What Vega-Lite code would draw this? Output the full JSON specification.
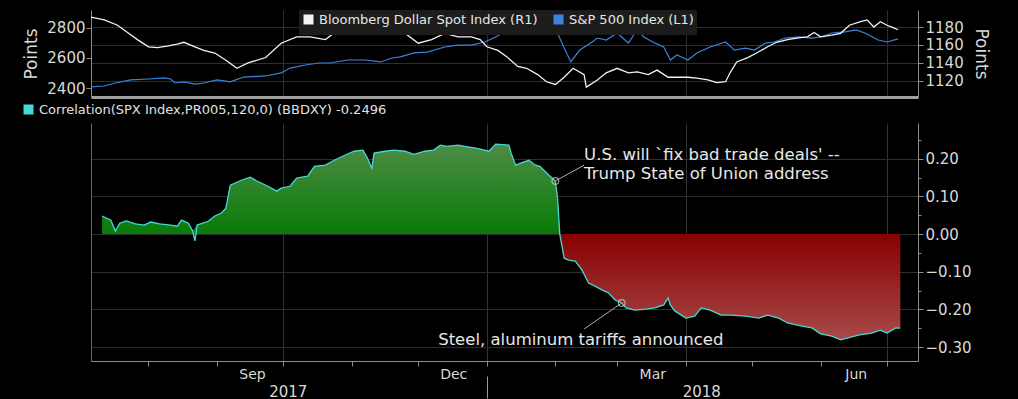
{
  "$schema": "https://vega.github.io/schema/vega-lite/v6.json",
  "background": "#000000",
  "padding": {"left": 22, "top": 10, "right": 30, "bottom": 0},
  "config": {
    "view": {"stroke": null},
    "font": "DejaVu Sans",
    "axis": {"labelColor": "#d9d9d9", "titleColor": "#d9d9d9", "gridColor": "#2e2e2e", "domainColor": "#8c8c8c", "tickColor": "#8c8c8c", "labelFont": "DejaVu Sans", "titleFont": "DejaVu Sans", "titleFontWeight": "normal"},
    "legend": {"labelFont": "DejaVu Sans", "labelColor": "#e0e0e0", "labelLimit": 0}
  },
  "datasets": {
    "spx": [
      {"date": "2017-07-06", "value": 2410}, {"date": "2017-07-12", "value": 2416}, {"date": "2017-07-17", "value": 2436},
      {"date": "2017-07-24", "value": 2456}, {"date": "2017-08-01", "value": 2462}, {"date": "2017-08-08", "value": 2469},
      {"date": "2017-08-11", "value": 2462}, {"date": "2017-08-13", "value": 2436}, {"date": "2017-08-17", "value": 2443},
      {"date": "2017-08-22", "value": 2429}, {"date": "2017-08-26", "value": 2436}, {"date": "2017-09-01", "value": 2456},
      {"date": "2017-09-07", "value": 2443}, {"date": "2017-09-13", "value": 2475}, {"date": "2017-09-23", "value": 2482},
      {"date": "2017-09-30", "value": 2502}, {"date": "2017-10-04", "value": 2534}, {"date": "2017-10-11", "value": 2554},
      {"date": "2017-10-17", "value": 2567}, {"date": "2017-10-22", "value": 2567}, {"date": "2017-10-30", "value": 2587},
      {"date": "2017-11-07", "value": 2587}, {"date": "2017-11-14", "value": 2574}, {"date": "2017-11-19", "value": 2600},
      {"date": "2017-11-23", "value": 2607}, {"date": "2017-11-29", "value": 2633}, {"date": "2017-12-05", "value": 2639},
      {"date": "2017-12-13", "value": 2672}, {"date": "2017-12-19", "value": 2685}, {"date": "2017-12-25", "value": 2685},
      {"date": "2017-12-31", "value": 2705}, {"date": "2018-01-05", "value": 2738}, {"date": "2018-01-09", "value": 2771},
      {"date": "2018-01-16", "value": 2800}, {"date": "2018-01-22", "value": 2835}, {"date": "2018-01-26", "value": 2870},
      {"date": "2018-01-30", "value": 2822}, {"date": "2018-02-02", "value": 2762}, {"date": "2018-02-05", "value": 2665},
      {"date": "2018-02-08", "value": 2574}, {"date": "2018-02-12", "value": 2652}, {"date": "2018-02-17", "value": 2698},
      {"date": "2018-02-20", "value": 2731}, {"date": "2018-02-24", "value": 2718}, {"date": "2018-03-01", "value": 2764},
      {"date": "2018-03-06", "value": 2698}, {"date": "2018-03-10", "value": 2784}, {"date": "2018-03-13", "value": 2738},
      {"date": "2018-03-17", "value": 2705}, {"date": "2018-03-22", "value": 2672}, {"date": "2018-03-25", "value": 2587},
      {"date": "2018-03-28", "value": 2620}, {"date": "2018-04-02", "value": 2587}, {"date": "2018-04-06", "value": 2633},
      {"date": "2018-04-12", "value": 2672}, {"date": "2018-04-19", "value": 2705}, {"date": "2018-04-23", "value": 2652},
      {"date": "2018-04-28", "value": 2665}, {"date": "2018-05-02", "value": 2652}, {"date": "2018-05-07", "value": 2698},
      {"date": "2018-05-11", "value": 2705}, {"date": "2018-05-16", "value": 2731}, {"date": "2018-05-22", "value": 2738},
      {"date": "2018-05-28", "value": 2731}, {"date": "2018-06-01", "value": 2738}, {"date": "2018-06-06", "value": 2764},
      {"date": "2018-06-12", "value": 2771}, {"date": "2018-06-17", "value": 2784}, {"date": "2018-06-21", "value": 2764},
      {"date": "2018-06-27", "value": 2718}, {"date": "2018-07-01", "value": 2705}, {"date": "2018-07-06", "value": 2725}
    ],
    "dxy": [
      {"date": "2017-07-06", "value": 1191}, {"date": "2017-07-12", "value": 1188}, {"date": "2017-07-18", "value": 1182},
      {"date": "2017-07-23", "value": 1173}, {"date": "2017-07-27", "value": 1166}, {"date": "2017-08-01", "value": 1158},
      {"date": "2017-08-05", "value": 1157}, {"date": "2017-08-10", "value": 1159}, {"date": "2017-08-14", "value": 1161},
      {"date": "2017-08-17", "value": 1163}, {"date": "2017-08-22", "value": 1158}, {"date": "2017-08-26", "value": 1154},
      {"date": "2017-08-31", "value": 1151}, {"date": "2017-09-05", "value": 1143}, {"date": "2017-09-10", "value": 1134},
      {"date": "2017-09-15", "value": 1140}, {"date": "2017-09-23", "value": 1146}, {"date": "2017-09-30", "value": 1162},
      {"date": "2017-10-07", "value": 1169}, {"date": "2017-10-13", "value": 1169}, {"date": "2017-10-20", "value": 1166},
      {"date": "2017-10-26", "value": 1177}, {"date": "2017-10-31", "value": 1180}, {"date": "2017-11-07", "value": 1183},
      {"date": "2017-11-12", "value": 1186}, {"date": "2017-11-19", "value": 1188}, {"date": "2017-11-25", "value": 1173},
      {"date": "2017-12-01", "value": 1162}, {"date": "2017-12-07", "value": 1166}, {"date": "2017-12-13", "value": 1173},
      {"date": "2017-12-19", "value": 1169}, {"date": "2017-12-25", "value": 1169}, {"date": "2017-12-29", "value": 1166},
      {"date": "2018-01-01", "value": 1158}, {"date": "2018-01-06", "value": 1154}, {"date": "2018-01-10", "value": 1147},
      {"date": "2018-01-15", "value": 1136}, {"date": "2018-01-19", "value": 1134}, {"date": "2018-01-24", "value": 1127},
      {"date": "2018-01-28", "value": 1119}, {"date": "2018-02-01", "value": 1116}, {"date": "2018-02-05", "value": 1124},
      {"date": "2018-02-09", "value": 1134}, {"date": "2018-02-14", "value": 1127}, {"date": "2018-02-15", "value": 1113},
      {"date": "2018-02-20", "value": 1121}, {"date": "2018-02-24", "value": 1129}, {"date": "2018-03-01", "value": 1134},
      {"date": "2018-03-06", "value": 1129}, {"date": "2018-03-10", "value": 1130}, {"date": "2018-03-15", "value": 1127},
      {"date": "2018-03-19", "value": 1132}, {"date": "2018-03-24", "value": 1124}, {"date": "2018-03-28", "value": 1124},
      {"date": "2018-04-02", "value": 1124}, {"date": "2018-04-06", "value": 1123}, {"date": "2018-04-11", "value": 1121},
      {"date": "2018-04-15", "value": 1118}, {"date": "2018-04-19", "value": 1119}, {"date": "2018-04-21", "value": 1129},
      {"date": "2018-04-24", "value": 1141}, {"date": "2018-04-29", "value": 1146}, {"date": "2018-05-03", "value": 1151},
      {"date": "2018-05-08", "value": 1158}, {"date": "2018-05-12", "value": 1163}, {"date": "2018-05-17", "value": 1166},
      {"date": "2018-05-22", "value": 1168}, {"date": "2018-05-26", "value": 1169}, {"date": "2018-05-29", "value": 1174},
      {"date": "2018-06-01", "value": 1169}, {"date": "2018-06-06", "value": 1171}, {"date": "2018-06-10", "value": 1173},
      {"date": "2018-06-14", "value": 1182}, {"date": "2018-06-19", "value": 1186}, {"date": "2018-06-22", "value": 1188},
      {"date": "2018-06-25", "value": 1180}, {"date": "2018-06-28", "value": 1186}, {"date": "2018-07-01", "value": 1182},
      {"date": "2018-07-04", "value": 1179}, {"date": "2018-07-06", "value": 1177}
    ],
    "corr": [
      {"date": "2017-07-11", "corr": 0.048}, {"date": "2017-07-15", "corr": 0.037}, {"date": "2017-07-17", "corr": 0.008},
      {"date": "2017-07-19", "corr": 0.029}, {"date": "2017-07-22", "corr": 0.035}, {"date": "2017-07-26", "corr": 0.027},
      {"date": "2017-07-30", "corr": 0.024}, {"date": "2017-08-02", "corr": 0.032}, {"date": "2017-08-06", "corr": 0.027},
      {"date": "2017-08-11", "corr": 0.024}, {"date": "2017-08-14", "corr": 0.021}, {"date": "2017-08-16", "corr": 0.037},
      {"date": "2017-08-19", "corr": 0.029}, {"date": "2017-08-21", "corr": 0.008}, {"date": "2017-08-22", "corr": -0.018},
      {"date": "2017-08-23", "corr": 0.024}, {"date": "2017-08-28", "corr": 0.034}, {"date": "2017-08-31", "corr": 0.048},
      {"date": "2017-09-03", "corr": 0.056}, {"date": "2017-09-05", "corr": 0.069}, {"date": "2017-09-07", "corr": 0.130},
      {"date": "2017-09-12", "corr": 0.143}, {"date": "2017-09-16", "corr": 0.151}, {"date": "2017-09-19", "corr": 0.141},
      {"date": "2017-09-24", "corr": 0.127}, {"date": "2017-09-28", "corr": 0.114}, {"date": "2017-09-30", "corr": 0.122},
      {"date": "2017-10-04", "corr": 0.127}, {"date": "2017-10-07", "corr": 0.149}, {"date": "2017-10-12", "corr": 0.154},
      {"date": "2017-10-15", "corr": 0.180}, {"date": "2017-10-20", "corr": 0.183}, {"date": "2017-10-24", "corr": 0.196},
      {"date": "2017-10-29", "corr": 0.210}, {"date": "2017-11-02", "corr": 0.220}, {"date": "2017-11-06", "corr": 0.223},
      {"date": "2017-11-08", "corr": 0.202}, {"date": "2017-11-10", "corr": 0.175}, {"date": "2017-11-11", "corr": 0.215},
      {"date": "2017-11-16", "corr": 0.220}, {"date": "2017-11-20", "corr": 0.223}, {"date": "2017-11-25", "corr": 0.220},
      {"date": "2017-11-29", "corr": 0.212}, {"date": "2017-12-04", "corr": 0.220}, {"date": "2017-12-08", "corr": 0.223},
      {"date": "2017-12-11", "corr": 0.236}, {"date": "2017-12-14", "corr": 0.233}, {"date": "2017-12-19", "corr": 0.236},
      {"date": "2017-12-22", "corr": 0.233}, {"date": "2017-12-27", "corr": 0.228}, {"date": "2017-12-31", "corr": 0.223},
      {"date": "2018-01-02", "corr": 0.220}, {"date": "2018-01-05", "corr": 0.239}, {"date": "2018-01-11", "corr": 0.236},
      {"date": "2018-01-12", "corr": 0.215}, {"date": "2018-01-14", "corr": 0.183}, {"date": "2018-01-16", "corr": 0.188},
      {"date": "2018-01-20", "corr": 0.196}, {"date": "2018-01-23", "corr": 0.183}, {"date": "2018-01-25", "corr": 0.180},
      {"date": "2018-01-29", "corr": 0.157}, {"date": "2018-02-01", "corr": 0.141}, {"date": "2018-02-02", "corr": 0.095},
      {"date": "2018-02-03", "corr": 0}, {"date": "2018-02-05", "corr": -0.064}, {"date": "2018-02-07", "corr": -0.069},
      {"date": "2018-02-10", "corr": -0.072}, {"date": "2018-02-13", "corr": -0.095}, {"date": "2018-02-16", "corr": -0.130},
      {"date": "2018-02-19", "corr": -0.138}, {"date": "2018-02-22", "corr": -0.148}, {"date": "2018-02-25", "corr": -0.156},
      {"date": "2018-02-28", "corr": -0.175}, {"date": "2018-03-03", "corr": -0.183}, {"date": "2018-03-05", "corr": -0.196},
      {"date": "2018-03-09", "corr": -0.202}, {"date": "2018-03-14", "corr": -0.199}, {"date": "2018-03-18", "corr": -0.196},
      {"date": "2018-03-22", "corr": -0.188}, {"date": "2018-03-24", "corr": -0.170}, {"date": "2018-03-25", "corr": -0.188},
      {"date": "2018-03-27", "corr": -0.204}, {"date": "2018-04-01", "corr": -0.223}, {"date": "2018-04-05", "corr": -0.218},
      {"date": "2018-04-08", "corr": -0.196}, {"date": "2018-04-12", "corr": -0.202}, {"date": "2018-04-17", "corr": -0.215},
      {"date": "2018-04-21", "corr": -0.215}, {"date": "2018-04-28", "corr": -0.218}, {"date": "2018-05-04", "corr": -0.223},
      {"date": "2018-05-08", "corr": -0.215}, {"date": "2018-05-13", "corr": -0.223}, {"date": "2018-05-17", "corr": -0.236},
      {"date": "2018-05-23", "corr": -0.244}, {"date": "2018-05-28", "corr": -0.249}, {"date": "2018-06-01", "corr": -0.265},
      {"date": "2018-06-06", "corr": -0.271}, {"date": "2018-06-10", "corr": -0.281}, {"date": "2018-06-13", "corr": -0.276},
      {"date": "2018-06-18", "corr": -0.268}, {"date": "2018-06-24", "corr": -0.263}, {"date": "2018-06-28", "corr": -0.255},
      {"date": "2018-07-01", "corr": -0.263}, {"date": "2018-07-05", "corr": -0.249}, {"date": "2018-07-07", "corr": -0.2496}
    ],
    "markers": [
      {"date": "2018-02-01", "value": 0.141},
      {"date": "2018-03-03", "value": -0.183}
    ],
    "leaders": [
      {"date": "2018-02-01", "value": 0.141, "date2": "2018-02-14", "value2": 0.183},
      {"date": "2018-03-03", "value": -0.183, "date2": "2018-02-14", "value2": -0.252}
    ],
    "notes": [
      {"date": "2018-02-14", "value": 0.2095, "label": "U.S. will `fix bad trade deals' --"},
      {"date": "2018-02-14", "value": 0.159, "label": "Trump State of Union address"},
      {"date": "2017-12-10", "value": -0.28, "label": "Steel, aluminum tariffs announced"}
    ]
  },
  "spacing": 6,
  "vconcat": [
    {
      "width": 827,
      "height": 87,
      "layer": [
        {
          "data": {"name": "spx"},
          "mark": {"type": "line", "strokeWidth": 1.2},
          "encoding": {
            "x": {"field": "date", "type": "temporal",
              "scale": {"domain": [{"year": 2017, "month": 7, "date": 6}, {"year": 2018, "month": 7, "date": 15}]},
              "axis": {"values": [{"year": 2017, "month": 10, "date": 1}, {"year": 2018, "month": 1, "date": 1}, {"year": 2018, "month": 4, "date": 1}, {"year": 2018, "month": 7, "date": 1}],
                "grid": true, "gridColor": "#2e2e2e", "labels": false, "ticks": false, "domain": true, "domainColor": "#a0a0a0", "domainWidth": 3, "title": null}},
            "y": {"field": "value", "type": "quantitative",
              "scale": {"domain": [2344, 2915], "nice": false, "zero": false},
              "axis": {"orient": "left", "values": [2400, 2600, 2800], "format": "d", "labelFontSize": 15, "tickSize": 5, "labelPadding": 1, "grid": false, "title": "Points", "titleFontSize": 17, "titlePadding": 6}},
            "color": {"datum": "S&P 500 Index (L1)",
              "scale": {"domain": ["Bloomberg Dollar Spot Index (R1)", "S&P 500 Index (L1)"], "range": ["#f2f2f2", "#3a84dc"]},
              "legend": {"orient": "none", "legendX": 208, "legendY": 0, "direction": "horizontal", "title": null, "symbolType": "square", "symbolSize": 25, "symbolStrokeWidth": 5, "labelFontSize": 13, "labelColor": "#e6e6e6", "labelLimit": 0, "fillColor": "#1c1c1c", "padding": 3, "columnPadding": 8}}
          }
        },
        {
          "data": {"name": "dxy"},
          "mark": {"type": "line", "strokeWidth": 1.3},
          "encoding": {
            "x": {"field": "date", "type": "temporal",
              "scale": {"domain": [{"year": 2017, "month": 7, "date": 6}, {"year": 2018, "month": 7, "date": 15}]},
              "axis": {"values": [{"year": 2017, "month": 10, "date": 1}, {"year": 2018, "month": 1, "date": 1}, {"year": 2018, "month": 4, "date": 1}, {"year": 2018, "month": 7, "date": 1}],
                "grid": true, "gridColor": "#2e2e2e", "labels": false, "ticks": false, "domain": true, "domainColor": "#a0a0a0", "domainWidth": 3, "title": null}},
            "y": {"field": "value", "type": "quantitative",
              "scale": {"domain": [1102, 1199], "nice": false, "zero": false},
              "axis": {"orient": "right", "values": [1120, 1140, 1160, 1180], "format": "d", "labelFontSize": 15, "tickSize": 5, "labelPadding": 2, "grid": true, "gridColor": "#2e2e2e", "title": "Points", "titleFontSize": 17, "titlePadding": 8}},
            "color": {"datum": "Bloomberg Dollar Spot Index (R1)"}
          }
        }
      ],
      "resolve": {"scale": {"y": "independent"}}
    },
    {
      "width": 827,
      "height": 238,
      "layer": [
        {
          "data": {"name": "corr"},
          "transform": [{"filter": {"field": "corr", "gte": 0}}],
          "mark": {"type": "area", "fill": {"gradient": "linear", "x1": 0, "y1": 0, "x2": 0, "y2": 1, "stops": [{"offset": 0, "color": "#4e8c46"}, {"offset": 1, "color": "#087b08"}]}},
          "encoding": {
            "x": {"field": "date", "type": "temporal",
              "scale": {"domain": [{"year": 2017, "month": 7, "date": 6}, {"year": 2018, "month": 7, "date": 15}]},
              "axis": {
                "orient": "bottom",
                "values": [{"year": 2017, "month": 8, "date": 1}, {"year": 2017, "month": 9, "date": 1}, {"year": 2017, "month": 10, "date": 1}, {"year": 2017, "month": 11, "date": 1}, {"year": 2017, "month": 12, "date": 1}, {"year": 2018, "month": 1, "date": 1}, {"year": 2018, "month": 2, "date": 1}, {"year": 2018, "month": 3, "date": 1}, {"year": 2018, "month": 4, "date": 1}, {"year": 2018, "month": 5, "date": 1}, {"year": 2018, "month": 6, "date": 1}, {"year": 2018, "month": 7, "date": 1}],
                "grid": true,
                "gridColor": {"condition": {"test": "month(datum.value) % 3 === 0", "value": "#333333"}, "value": "rgba(0,0,0,0)"},
                "tickSize": 5, "labelFontSize": 14, "labelPadding": 1, "labelOffset": 35, "labelFlush": false, "labelOverlap": false,
                "labelExpr": "indexof([8, 11, 2, 5], month(datum.value)) >= 0 ? timeFormat(datum.value, '%b') : ''",
                "title": null}},
            "y": {"field": "corr", "type": "quantitative",
              "scale": {"domain": [-0.337, 0.295], "nice": false, "zero": false},
              "axis": {"orient": "right", "values": [-0.3, -0.2, -0.1, 0, 0.1, 0.2], "format": ".2f", "grid": true, "gridColor": "#2e2e2e", "tickSize": 5, "labelFontSize": 15, "labelPadding": 2, "title": null}},
            "y2": {"datum": 0}
          }
        },
        {
          "data": {"name": "corr"},
          "transform": [{"filter": {"and": [{"field": "corr", "lte": 0}, {"field": "date", "gte": {"year": 2018, "month": 2, "date": 1}}]}}],
          "mark": {"type": "area", "fill": {"gradient": "linear", "x1": 0, "y1": 0, "x2": 0, "y2": 1, "stops": [{"offset": 0, "color": "#880000"}, {"offset": 1, "color": "#a84a4a"}]}},
          "encoding": {
            "x": {"field": "date", "type": "temporal",
              "scale": {"domain": [{"year": 2017, "month": 7, "date": 6}, {"year": 2018, "month": 7, "date": 15}]},
              "axis": {
                "orient": "bottom",
                "values": [{"year": 2017, "month": 10, "date": 3}, {"year": 2018, "month": 1, "date": 1}, {"year": 2018, "month": 4, "date": 8}],
                "offset": 15, "domain": false, "grid": false, "tickSize": 22,
                "tickColor": {"condition": {"test": "month(datum.value) === 0", "value": "#9a9a9a"}, "value": "rgba(0,0,0,0)"},
                "labelExpr": "month(datum.value) === 0 ? '' : timeFormat(datum.value, '%Y')",
                "labelFontSize": 15, "labelPadding": -14, "labelFlush": false, "labelOverlap": false, "title": null}},
            "y": {"field": "corr", "type": "quantitative",
              "scale": {"domain": [-0.337, 0.295], "nice": false, "zero": false},
              "axis": {"orient": "right", "values": [-0.25, -0.15, -0.05, 0.05, 0.15, 0.25], "labels": false, "grid": false, "domain": false, "tickSize": 3, "title": null}},
            "y2": {"datum": 0}
          }
        },
        {
          "data": {"name": "corr"},
          "mark": {"type": "line", "strokeWidth": 1.3},
          "encoding": {
            "x": {"field": "date", "type": "temporal",
              "scale": {"domain": [{"year": 2017, "month": 7, "date": 6}, {"year": 2018, "month": 7, "date": 15}]},
              "axis": null},
            "y": {"field": "corr", "type": "quantitative",
              "scale": {"domain": [-0.337, 0.295], "nice": false, "zero": false},
              "axis": {"orient": "left", "labels": false, "ticks": false, "grid": false, "domain": true, "domainColor": "#666666", "title": null}},
            "color": {"datum": "Correlation(SPX Index,PR005,120,0) (BBDXY) -0.2496",
              "scale": {"range": ["#45d9d6"]},
              "legend": {"orient": "none", "legendX": -69, "legendY": -20, "title": null, "symbolType": "square", "symbolSize": 25, "symbolStrokeWidth": 5, "labelFontSize": 13, "labelLimit": 0, "labelColor": "#e0e0e0"}}
          }
        },
        {
          "data": {"name": "leaders"},
          "mark": {"type": "rule", "color": "#b0b0b0", "strokeWidth": 1},
          "encoding": {
            "x": {"field": "date", "type": "temporal", "scale": {"domain": [{"year": 2017, "month": 7, "date": 6}, {"year": 2018, "month": 7, "date": 15}]}, "axis": null},
            "x2": {"field": "date2"},
            "y": {"field": "value", "type": "quantitative", "scale": {"domain": [-0.337, 0.295], "nice": false, "zero": false}, "axis": null},
            "y2": {"field": "value2"}
          }
        },
        {
          "data": {"name": "markers"},
          "mark": {"type": "point", "filled": false, "color": "#d0d0d0", "strokeWidth": 1.3, "size": 45},
          "encoding": {
            "x": {"field": "date", "type": "temporal", "scale": {"domain": [{"year": 2017, "month": 7, "date": 6}, {"year": 2018, "month": 7, "date": 15}]}, "axis": null},
            "y": {"field": "value", "type": "quantitative", "scale": {"domain": [-0.337, 0.295], "nice": false, "zero": false}, "axis": null}
          }
        },
        {
          "data": {"name": "notes"},
          "mark": {"type": "text", "align": "left", "baseline": "middle", "fontSize": 16.5, "color": "#e8e8e8", "font": "DejaVu Sans"},
          "encoding": {
            "x": {"field": "date", "type": "temporal", "scale": {"domain": [{"year": 2017, "month": 7, "date": 6}, {"year": 2018, "month": 7, "date": 15}]}, "axis": null},
            "y": {"field": "value", "type": "quantitative", "scale": {"domain": [-0.337, 0.295], "nice": false, "zero": false}, "axis": null},
            "text": {"field": "label"}
          }
        }
      ],
      "resolve": {"axis": {"x": "independent", "y": "independent"}}
    }
  ],
  "resolve": {"scale": {"color": "independent", "y": "independent"}}
}
